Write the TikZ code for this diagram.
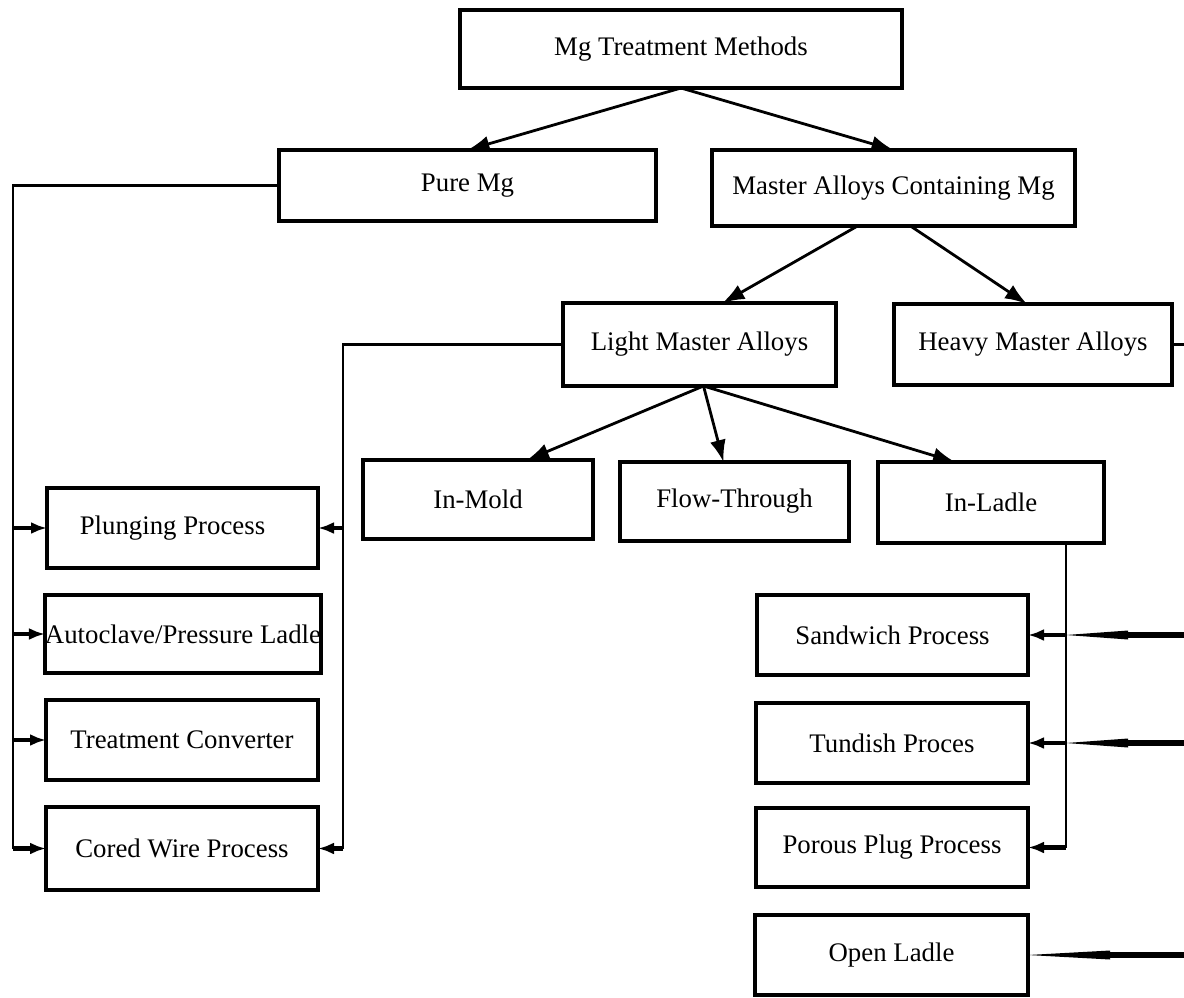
\documentclass[tikz,border=0pt]{standalone}
\usepackage{fontspec}
\setmainfont{Liberation Serif}
\usepackage{tikz}
\usetikzlibrary{arrows.meta, calc, positioning}

\begin{document}
\begin{tikzpicture}[
    x=0.5pt, y=-0.5pt,
    box/.style={draw, line width=1.7pt, inner sep=0pt, outer sep=0pt,
        font=\fontsize{13.4}{16}\selectfont, align=center},
    tree/.style={line width=1.4pt, -{Latex[length=11pt,width=8pt]}},
    bus/.style={line width=1.1pt},
    stub/.style={line width=2.2pt, -{Latex[length=8pt,width=6pt]}},
    feed/.style={line width=2.6pt},
]
\useasboundingbox (0,0) rectangle (1184,997);

% top levels
\node[box, minimum width=221pt, minimum height=39pt] (top) at (681,49) {Mg Treatment Methods};
\node[box, minimum width=188.5pt, minimum height=35.5pt] (pure) at (467.5,185.5) {Pure Mg};
\node[box, minimum width=181.5pt, minimum height=38pt] (master) at (893.5,188) {Master Alloys Containing Mg};
\node[box, minimum width=136.5pt, minimum height=41.5pt] (light) at (699.5,344.5) {Light Master Alloys};
\node[box, minimum width=139pt, minimum height=40.5pt] (heavy) at (1033,344.5) {Heavy Master Alloys};
\node[box, minimum width=115pt, minimum height=39.5pt] (inmold) at (478,499.5) {In-Mold};
\node[box, minimum width=114.5pt, minimum height=39.5pt] (flow) at (734.5,501.5) {Flow-Through};
\node[box, minimum width=113pt, minimum height=40.5pt] (inladle) at (991,502.5) {In-Ladle};

% left column
\node[box, minimum width=135.5pt, minimum height=40pt] (plunge) at (182.5,528) {Plunging Process\hspace*{10pt}};
\node[box, minimum width=137pt, minimum height=39pt] (auto) at (183,634) {Autoclave/Pressure Ladle};
\node[box, minimum width=136pt, minimum height=40pt] (conv) at (182,740) {Treatment Converter};
\node[box, minimum width=136pt, minimum height=41.5pt] (cored) at (182,848.5) {Cored Wire Process};

% right column
\node[box, minimum width=135.5pt, minimum height=40pt] (sand) at (892.5,635) {Sandwich Process};
\node[box, minimum width=136pt, minimum height=40pt] (tund) at (892,743) {Tundish Proces};
\node[box, minimum width=136pt, minimum height=39.5pt] (porous) at (892,847.5) {Porous Plug Process};
\node[box, minimum width=136.5pt, minimum height=40pt] (open) at (891.5,955) {Open Ladle};

\coordinate (pbus) at (13,0);
\coordinate (lbus) at (343,0);
\coordinate (rbus) at (1066,0);
\coordinate (edge) at (1184,0);

% tree arrows
\draw[tree] (top.south) -- (pure.north);
\draw[tree] (top.south) -- (master.north);
\draw[tree] ($(master.south)+(-36,0)$) -- ($(light.north)+(23,0)$);
\draw[tree] ($(master.south)+(17,0)$) -- ($(heavy.north)+(-6,0)$);
\draw[tree] ($(light.south)+(4,0)$) -- ($(inmold.north)+(49,0)$);
\draw[tree] ($(light.south)+(4,0)$) -- ($(flow.north)+(-11,0)$);
\draw[tree] ($(light.south)+(4,0)$) -- ($(inladle.north)+(-36,0)$);

% Pure Mg branch
\draw[bus] (pure.west) -| (pbus |- cored.west);
\foreach \n in {plunge,auto,conv,cored}
    \draw[stub] (pbus |- \n.west) -- (\n.west);

% Light Master Alloys branch
\draw[bus] (light.west) -| (lbus |- cored.east);
\foreach \n in {plunge,cored}
    \draw[stub] (lbus |- \n.east) -- (\n.east);

% In-Ladle branch
\draw[bus] (inladle.south -| rbus) -- (rbus |- porous.east);
\foreach \n in {sand,tund,porous}
    \draw[stub] (rbus |- \n.east) -- (\n.east);

% Heavy Master Alloys branch
\draw[bus] (heavy.east) -- (edge |- heavy.east);
\foreach \n in {sand,tund} {
    \draw[feed] (edge |- \n.east) -- ($(rbus |- \n.east)+(62,0)$);
    \fill ($(rbus |- \n.east)+(62,-4.5)$) -- (rbus |- \n.east)
        -- ($(rbus |- \n.east)+(62,4.5)$) -- cycle;
}
\draw[feed] (edge |- open.east) -- ($(open.east)+(82,0)$);
\fill ($(open.east)+(82,-4.5)$) -- (open.east) -- ($(open.east)+(82,4.5)$) -- cycle;
\end{tikzpicture}
\end{document}
